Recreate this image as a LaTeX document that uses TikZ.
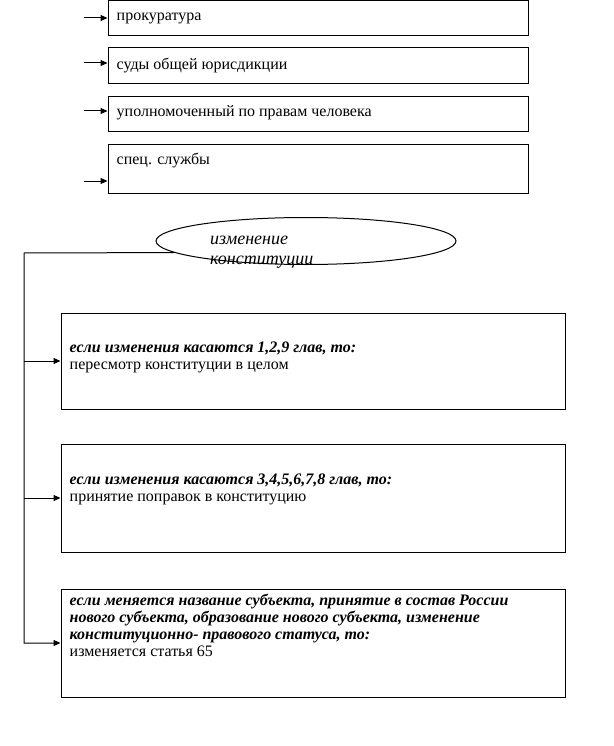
\documentclass[tikz,border=0pt]{standalone}
\usepackage{fontspec}
\setmainfont{Liberation Serif}
\usetikzlibrary{arrows.meta, positioning, shapes.geometric, calc}
\tikzset{
  arrowK/.style={-{Triangle[length=7pt,width=6pt]}, black, line width=1pt},
  boxTop/.style={rectangle, draw=black, line width=1pt, minimum width=420pt,
                 inner sep=0pt},
  boxLow/.style={rectangle, draw=black, line width=1pt, minimum width=504pt,
                 minimum height=108pt, inner sep=0pt},
  ellK/.style={ellipse, draw=black, line width=1pt, minimum width=300pt,
               minimum height=47pt, inner sep=0pt},
  txt/.style={anchor=north west, inner sep=0pt, align=left,
              font=\fontsize{16}{17}\selectfont, execute at begin node=\strut},
}

\begin{document}
\begin{tikzpicture}[x=1pt, y=-1pt]
    \useasboundingbox (0,0) rectangle (613,746);
    % organs
    \node[boxTop, minimum height=35pt] (b1) at (318,18.5) {};
    \node[boxTop, minimum height=36pt] (b2) at (318,66) {};
    \node[boxTop, minimum height=35pt] (b3) at (318,114.5) {};
    \node[boxTop, minimum height=48pt] (b4) at (318,169) {};
    \node[txt] (t1) at ([xshift=9pt, yshift=-8pt]b1.north west) {прокуратура};
    \node[txt] (t2) at ([xshift=9pt, yshift=-10pt]b2.north west) {суды общей юрисдикции};
    \node[txt] (t3) at ([xshift=9pt, yshift=-8pt]b3.north west) {уполномоченный по правам человека};
    \node[txt] (t4) at ([xshift=9pt, yshift=-8pt]b4.north west) {спец. службы};
    \coordinate (a1) at (84,18);
    \coordinate (a2) at (84,63);
    \coordinate (a3) at (84,111);
    \coordinate (a4) at (84,181);
    \draw[arrowK] (a1)--(a1 -| b1.west); \draw[arrowK] (a2)--(a2 -| b2.west);
    \draw[arrowK] (a3)--(a3 -| b3.west); \draw[arrowK] (a4)--(a4 -| b4.west);

    % change of the constitution
    \node[ellK] (ell) at (306,241) {};
    \node[txt, font=\fontsize{18}{20}\selectfont\itshape] (te) at (210,236) {изменение\\конституции};
    \node[boxLow, minimum height=96pt] (bA) at (313,361) {};
    \node[boxLow] (bB) at (313,498) {};
    \node[boxLow] (bC) at (313,643) {};
    \node[txt] (tA) at ([xshift=9pt, yshift=-29pt]bA.north west)
      {\textbf{\textit{если изменения касаются 1,2,9 глав, то:}}\\пересмотр конституции в целом};
    \node[txt] (tB) at ([xshift=9pt, yshift=-30pt]bB.north west)
      {\textbf{\textit{если изменения касаются 3,4,5,6,7,8 глав, то:}}\\принятие поправок в конституцию};
    \node[txt] (tC) at ([xshift=9pt, yshift=-5pt]bC.north west)
      {\textbf{\textit{если меняется название субъекта, принятие в состав России}}\\
       \textbf{\textit{нового субъекта, образование нового субъекта, изменение}}\\
       \textbf{\textit{конституционно- правового статуса, то:}}\\изменяется статья 65};
    \coordinate (j) at (24,253);
    \draw[arrowK] (ell.185) -- (j) |- (bC.west);
    \draw[arrowK] (j |- bA.west) -- (bA.west);
    \draw[arrowK] (j |- bB.west) -- (bB.west);
\end{tikzpicture}
\end{document}
